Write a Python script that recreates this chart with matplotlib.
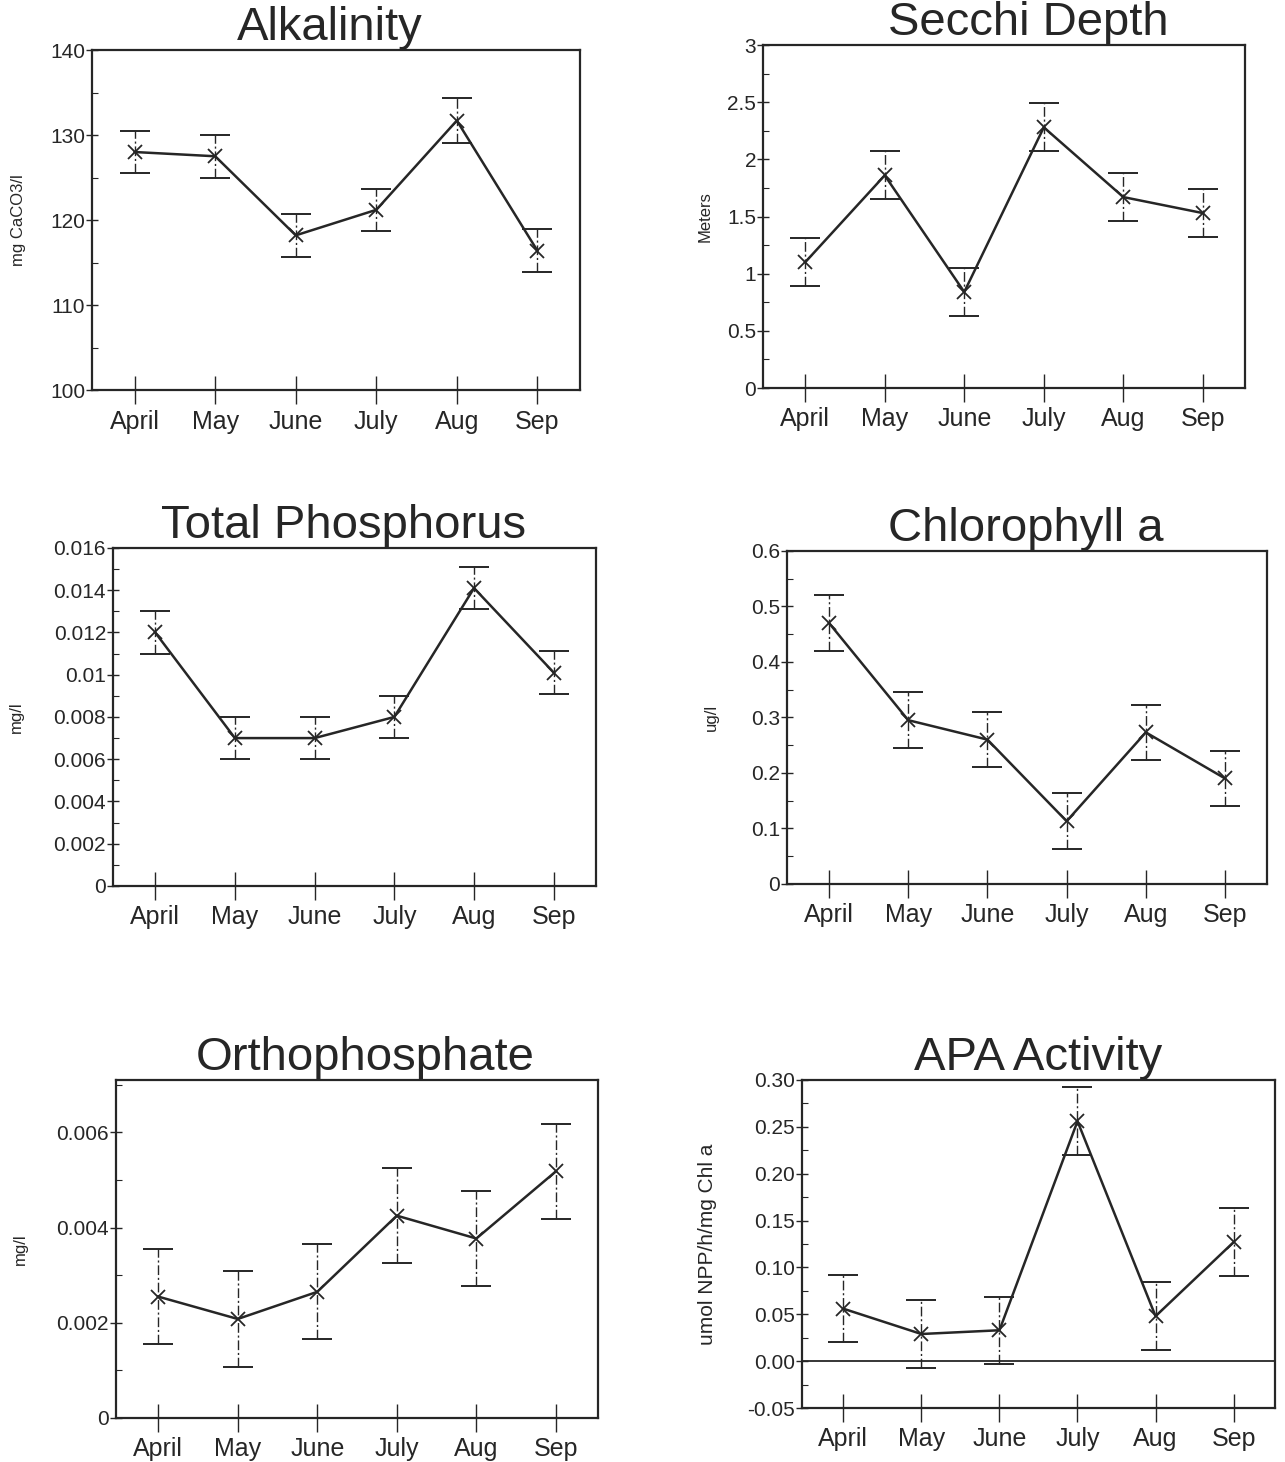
import numpy as np
import matplotlib
matplotlib.use("Agg")
import matplotlib.pyplot as plt
from matplotlib.ticker import FixedLocator, MultipleLocator

plt.rcParams['font.family'] = ['Liberation Sans', 'DejaVu Sans']

months = ["April", "May", "June", "July", "Aug", "Sep"]

# values (mean, +/- error)
alk_mean = [128.0, 127.5, 118.2, 121.2, 131.7, 116.4]
alk_err = [2.5, 2.5, 2.5, 2.5, 2.6, 2.5]

secchi_mean = [1.10, 1.86, 0.84, 2.28, 1.67, 1.53]
secchi_err = [0.21, 0.21, 0.21, 0.21, 0.21, 0.21]

tp_mean = [0.0120, 0.0070, 0.0070, 0.0080, 0.0141, 0.0101]
tp_err = [0.0010, 0.0010, 0.0010, 0.0010, 0.0010, 0.0010]

chl_mean = [0.470, 0.295, 0.260, 0.113, 0.273, 0.190]
chl_err = [0.050, 0.050, 0.050, 0.050, 0.050, 0.050]

ortho_mean = [0.00255, 0.00208, 0.00265, 0.00425, 0.00377, 0.00518]
ortho_err = [0.00100, 0.00100, 0.00100, 0.00100, 0.00100, 0.00100]

apa_mean = [0.056, 0.029, 0.033, 0.256, 0.048, 0.127]
apa_err = [0.036, 0.036, 0.036, 0.036, 0.036, 0.036]

alk_ticks = [100, 110, 120, 130, 140]
alk_labels = ["100", "110", "120", "130", "140"]
secchi_ticks = [0, 0.5, 1, 1.5, 2, 2.5, 3]
secchi_labels = ["0", "0.5", "1", "1.5", "2", "2.5", "3"]
tp_ticks = [0, 0.002, 0.004, 0.006, 0.008, 0.010, 0.012, 0.014, 0.016]
tp_labels = ["0", "0.002", "0.004", "0.006", "0.008", "0.01", "0.012", "0.014", "0.016"]
chl_ticks = [0, 0.1, 0.2, 0.3, 0.4, 0.5, 0.6]
chl_labels = ["0", "0.1", "0.2", "0.3", "0.4", "0.5", "0.6"]
ortho_ticks = [0, 0.002, 0.004, 0.006]
ortho_labels = ["0", "0.002", "0.004", "0.006"]
apa_ticks = [-0.05, 0.0, 0.05, 0.10, 0.15, 0.20, 0.25, 0.30]
apa_labels = ["-0.05", "0.00", "0.05", "0.10", "0.15", "0.20", "0.25", "0.30"]

ink = "#262626"

fig = plt.figure(figsize=(12.85, 14.62), dpi=100)


def panel(rect, title, title_x, mean, err, ticks, labels, ylim, minor, ylabel,
          label_x, label_size=12):
    ax = fig.add_axes(rect)
    x = np.arange(len(months))
    ax.plot(x, mean, color=ink, lw=1.8, marker='x', ms=10, mew=1.3, zorder=3)
    eb = ax.errorbar(x, mean, yerr=err, fmt='none', ecolor=ink, elinewidth=1.0,
                     capsize=11, capthick=1.4, zorder=2)
    eb[2][0].set_linestyle((0, (7, 2, 1.5, 2)))
    ax.set_xlim(-0.53, 5.53)
    ax.set_ylim(*ylim)
    ax.set_xticks(x)
    ax.set_xticklabels(months, fontsize=18)
    ax.yaxis.set_major_locator(FixedLocator(ticks))
    ax.set_yticklabels(labels, fontsize=15)
    ax.yaxis.set_minor_locator(MultipleLocator(minor))
    ax.tick_params(axis='x', direction='inout', length=20, width=1.0,
                   pad=4, colors=ink)
    ax.tick_params(axis='y', which='major', direction='inout', length=8,
                   width=1.0, pad=1, colors=ink)
    ax.tick_params(axis='y', which='minor', direction='in', length=4,
                   width=0.8, colors=ink)
    for s in ax.spines.values():
        s.set_linewidth(1.6)
        s.set_color(ink)
    ax.set_title(title, fontsize=34, pad=-4, x=title_x, color=ink)
    ax.set_ylabel(ylabel, fontsize=label_size, color=ink)
    ax.yaxis.set_label_coords(label_x, 0.5)
    return ax


panel([0.0716, 0.7332, 0.3798, 0.2326], "Alkalinity", 0.488, alk_mean, alk_err,
      alk_ticks, alk_labels, (100, 140), 5, "mg CaCO3/l", -0.135)
panel([0.5938, 0.7346, 0.3751, 0.2346], "Secchi Depth", 0.55, secchi_mean, secchi_err,
      secchi_ticks, secchi_labels, (0, 3), 0.25, "Meters", -0.105)
panel([0.0879, 0.3940, 0.3759, 0.2312], "Total Phosphorus", 0.478, tp_mean, tp_err,
      tp_ticks, tp_labels, (0, 0.016), 0.001, "mg/l", -0.185)
panel([0.6125, 0.3954, 0.3735, 0.2278], "Chlorophyll a", 0.497, chl_mean, chl_err,
      chl_ticks, chl_labels, (0, 0.6), 0.05, "ug/l", -0.143)
panel([0.0903, 0.0301, 0.3751, 0.2312], "Orthophosphate", 0.517, ortho_mean, ortho_err,
      ortho_ticks, ortho_labels, (0, 0.0071), 0.001, "mg/l", -0.182)
ax6 = panel([0.6241, 0.0369, 0.3681, 0.2244], "APA Activity", 0.5, apa_mean, apa_err,
            apa_ticks, apa_labels, (-0.05, 0.30), 0.025,
            "umol NPP/h/mg Chl a", -0.18, label_size=15)
ax6.axhline(0, color=ink, lw=1.3, zorder=1)

fig.savefig("out.png", dpi=100, facecolor="white")
